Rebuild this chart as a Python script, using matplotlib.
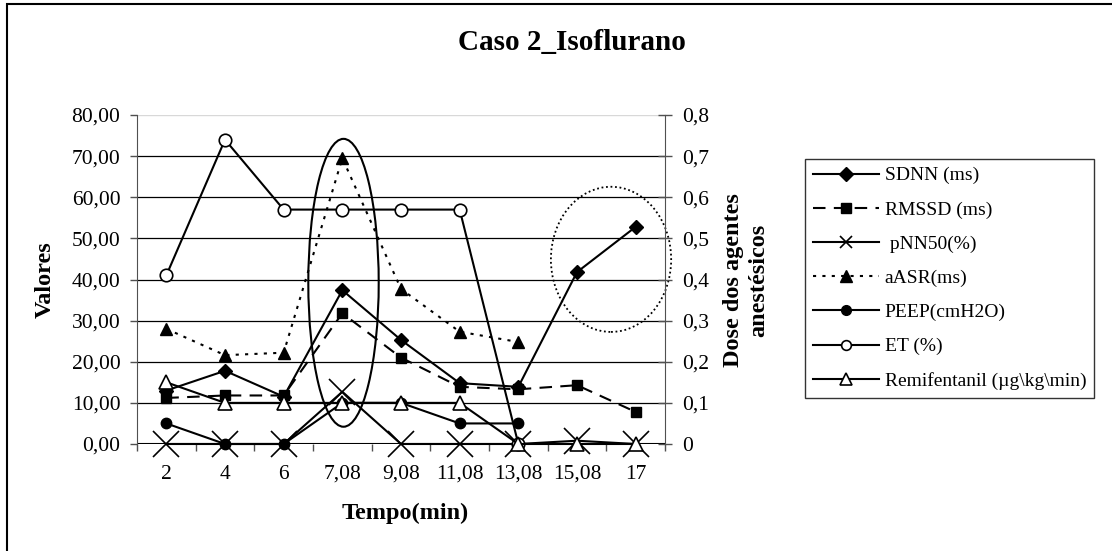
#!/usr/bin/env python3
"""
Caso 2_Isoflurano - HRV indices and anesthetic dose over time.
Left axis: SDNN, RMSSD, pNN50, aASR, PEEP. Right axis: ET and Remifentanil dose.
"""

import matplotlib
matplotlib.use("Agg")
import matplotlib.pyplot as plt
import numpy as np
from matplotlib.patches import Ellipse, Rectangle
from matplotlib.ticker import FixedLocator, FuncFormatter

nan = np.nan

# Data
tempo = ["2", "4", "6", "7,08", "9,08", "11,08", "13,08", "15,08", "17"]
sdnn = [13.0, 17.8, 11.5, 37.4, 25.3, 14.8, 13.9, 41.8, 52.8]
rmssd = [11.2, 11.8, 11.8, 31.8, 21.0, 13.9, 13.3, 14.3, 7.8]
pnn50 = [0.0, 0.0, 0.0, 12.7, 0.0, 0.0, 0.0, 0.8, 0.0]
aasr = [28.0, 21.6, 22.2, 69.5, 37.7, 27.3, 24.8, nan, nan]
peep = [5.0, 0.0, 0.0, 10.0, 10.0, 5.0, 5.0, nan, nan]
# right axis (dose)
et = [0.41, 0.74, 0.57, 0.57, 0.57, 0.57, 0.0, nan, nan]
remi = [0.15, 0.10, 0.10, 0.10, 0.10, 0.10, 0.0, 0.0, 0.0]

FONT = "Liberation Serif"
W, H = 1112, 551
GREY = "#505050"


def fx(px):
    return px / W


def fy(px):
    return 1 - px / H


def main():
    plt.rcParams["font.family"] = [FONT, "DejaVu Serif"]
    fig = plt.figure(figsize=(W / 100, H / 100), dpi=100)

    # outer chart frame (only left/top edges fall inside the picture)
    fig.patches.append(Rectangle((fx(7), -0.1), 1.2, fy(4) + 0.1,
                                 transform=fig.transFigure, fill=False,
                                 edgecolor="black", lw=1.5))

    ax = fig.add_axes([fx(137), fy(444), fx(665) - fx(137), fy(115) - fy(444)])
    ax2 = ax.twinx()

    x = np.arange(len(tempo))
    k = "black"
    common = dict(color=k, lw=1.5, clip_on=False, zorder=5)

    ax.plot(x, sdnn, marker="D", ms=7, label="SDNN (ms)", **common)
    ax.plot(x, rmssd, ls=(0, (6, 4)), marker="s", ms=7, label="RMSSD (ms)", **common)
    ax.plot(x, pnn50, marker="x", ms=19, mew=1.2, label=" pNN50(%)", **common)
    ax.plot(x, aasr, ls=(0, (1.5, 3)), marker="^", ms=9, label="aASR(ms)", **common)
    ax.plot(x, peep, marker="o", ms=7.5, label="PEEP(cmH2O)", **common)
    ax2.plot(x, et, marker="o", ms=9, mfc="white", mew=1.2, label="ET (%)", **common)
    ax2.plot(x, remi, marker="^", ms=10, mfc="white", mew=1.2,
             label="Remifentanil (µg\\kg\\min)", **common)

    # highlight ellipses
    ax.add_patch(Ellipse((3.02, 39.2), 1.2, 70, fill=False, edgecolor=k, lw=1.5,
                         clip_on=False, zorder=6))
    ax.add_patch(Ellipse((7.58, 44.9), 2.05, 35.3, fill=False, edgecolor=k, lw=1.3,
                         ls=(0, (1, 1.5)), clip_on=False, zorder=6))

    # left axis
    ax.set_xlim(-0.5, len(tempo) - 0.5)
    ax.set_ylim(0, 80)
    ax.set_yticks(np.arange(0, 81, 10))
    ax.yaxis.set_major_formatter(FuncFormatter(lambda v, pos: f"{v:.2f}".replace(".", ",")))
    ax.set_xticks(x)
    ax.set_xticklabels(tempo)
    ax.xaxis.set_minor_locator(FixedLocator(np.arange(-0.5, len(tempo), 1.0)))
    ax.tick_params(axis="x", which="major", length=0, pad=15, labelsize=15.5)
    ax.tick_params(axis="x", which="minor", length=5, width=1, color=GREY)
    ax.tick_params(axis="y", length=5, width=1, color=GREY, labelsize=15.5, pad=7)
    for v in range(10, 80, 10):
        ax.axhline(v, color=k, lw=0.9, zorder=1)
    ax.axhline(80, color="#d8d8d8", lw=1, zorder=1)
    ax.axhline(0, color=k, lw=1.5, zorder=2)

    # right axis
    ax2.set_ylim(0, 0.8)
    ax2.set_yticks(np.arange(0, 0.81, 0.1))
    ax2.yaxis.set_major_formatter(
        FuncFormatter(lambda v, pos: "0" if abs(v) < 1e-9 else f"{v:.1f}".replace(".", ",")))
    ax2.tick_params(axis="y", direction="inout", length=10, width=1, color=GREY,
                    labelsize=15.5, pad=7)

    for a in (ax, ax2):
        a.spines["top"].set_visible(False)
        a.spines["bottom"].set_visible(False)
        a.spines["left"].set_color(GREY)
        a.spines["right"].set_color(GREY)
    ax2.spines["left"].set_visible(False)
    ax.spines["right"].set_visible(False)

    # titles
    fig.text(fx(572), fy(42), "Caso 2_Isoflurano", ha="center", va="center",
             fontsize=21, fontweight="bold")
    fig.text(fx(45), fy(280), "Valores", ha="center", va="center", rotation=90,
             fontsize=17.5, fontweight="bold")
    fig.text(fx(405), fy(513), "Tempo(min)", ha="center", va="center",
             fontsize=17.5, fontweight="bold")
    fig.text(fx(746), fy(280), "Dose dos agentes\nanestésicos", ha="center",
             va="center", rotation=90, fontsize=17.5, fontweight="bold",
             linespacing=1.25)

    # legend
    handles = ax.get_legend_handles_labels()[0] + ax2.get_legend_handles_labels()[0]
    labels = [h.get_label() for h in handles]
    leg = fig.legend(handles, labels, loc="upper left",
                     bbox_to_anchor=(fx(805), fy(159)),
                     frameon=True, fancybox=False, edgecolor="black", fontsize=14,
                     handlelength=3.4, handletextpad=0.3, labelspacing=0.85,
                     borderpad=0.4, borderaxespad=0)
    leg.get_frame().set_linewidth(1)
    leg_ms = {"D": 7, "s": 7, "x": 8, "^": 8, "o": 7}
    for h in leg.legend_handles:
        h.set_markersize(leg_ms.get(h.get_marker(), 7))

    fig.savefig("out.png", dpi=100)
    plt.close(fig)
    print("Saved out.png")


if __name__ == "__main__":
    main()
